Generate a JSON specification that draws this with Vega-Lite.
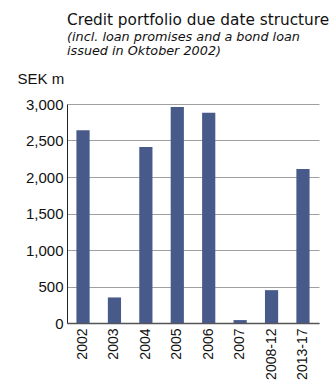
{
  "$schema": "https://vega.github.io/schema/vega-lite/v6.json",
  "width": 252,
  "height": 219,
  "autosize": {"type": "none"},
  "padding": {"left": 67, "top": 104, "right": 16, "bottom": 60},
  "background": "white",
  "title": {
    "text": "Credit portfolio due date structure",
    "subtitle": ["(incl. loan promises and a bond loan", "issued in Oktober 2002)"],
    "anchor": "start",
    "frame": "group",
    "font": "DejaVu Sans",
    "fontSize": 15.3,
    "fontWeight": "normal",
    "color": "#111",
    "subtitleFont": "DejaVu Sans",
    "subtitleFontSize": 12.8,
    "subtitleFontStyle": "italic",
    "subtitleColor": "#111",
    "subtitleLineHeight": 14,
    "subtitlePadding": 3,
    "offset": 13
  },
  "data": {
    "values": [
      {"period": "2002", "amount": 2640},
      {"period": "2003", "amount": 350},
      {"period": "2004", "amount": 2410},
      {"period": "2005", "amount": 2960},
      {"period": "2006", "amount": 2880},
      {"period": "2007", "amount": 40},
      {"period": "2008-12", "amount": 450},
      {"period": "2013-17", "amount": 2110}
    ]
  },
  "mark": {"type": "bar", "color": "#485a8a"},
  "encoding": {
    "x": {
      "field": "period",
      "type": "nominal",
      "sort": null,
      "scale": {"paddingInner": 0.58, "paddingOuter": 0.3},
      "axis": {
        "title": null,
        "labelAngle": -90,
        "labelAlign": "right",
        "labelBaseline": "middle",
        "labelFontSize": 14,
        "labelColor": "#111",
        "labelPadding": 5,
        "ticks": false,
        "domainColor": "#555",
        "domainWidth": 1.5
      }
    },
    "y": {
      "field": "amount",
      "type": "quantitative",
      "scale": {"domain": [0, 3000], "nice": false},
      "axis": {
        "title": "SEK m",
        "titleAngle": 0,
        "titleX": -50,
        "titleY": -26,
        "titleAlign": "left",
        "titleBaseline": "middle",
        "titleFontSize": 15,
        "titleFontWeight": "normal",
        "titleColor": "#111",
        "values": [0, 500, 1000, 1500, 2000, 2500, 3000],
        "format": ",.0f",
        "labelFontSize": 15,
        "labelColor": "#111",
        "labelPadding": 4,
        "ticks": false,
        "domainColor": "#222",
        "domainWidth": 1,
        "grid": true,
        "gridColor": "#a0a0a0",
        "gridWidth": 1
      }
    }
  },
  "config": {
    "font": "Liberation Sans",
    "view": {"stroke": null}
  }
}
